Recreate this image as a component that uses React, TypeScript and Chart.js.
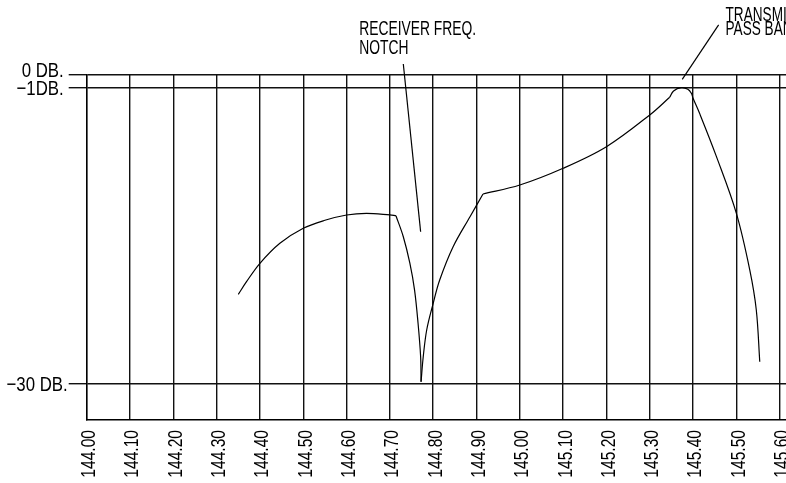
import React, { useEffect, useRef } from "react";
import { Chart, registerables } from "chart.js";

Chart.register(...registerables);

const FONT = '"Liberation Sans", Arial, sans-serif';

// Frequency axis (MHz)
const xTickValues = [144.0, 144.1, 144.2, 144.3, 144.4, 144.5, 144.6, 144.7, 144.8, 144.9, 145.0, 145.1, 145.2, 145.3, 145.4, 145.5, 145.6];
const xTickLabels = ["144.00", "144.10", "144.20", "144.30", "144.40", "144.50", "144.60", "144.70", "144.80", "144.90", "145.00", "145.10", "145.20", "145.30", "145.40", "145.50", "145.60"];

// Attenuation axis: the drawing puts its "0 DB." line just above -1 dB
const yTickValues = [0.27, -1, -30];
const yTickLabels = ["0 DB.", "\u22121DB.", "\u221230 DB."];

// Response curve, split at its corners
const lowArcFreq = [144.35, 144.369, 144.4, 144.446, 144.5, 144.55, 144.6, 144.646, 144.7, 144.714];
const lowArcDb = [-21.27, -20.03, -18.23, -16.27, -14.8, -14.02, -13.5, -13.34, -13.5, -13.57];

const notchFallFreq = [144.714, 144.731, 144.746, 144.757, 144.765, 144.771, 144.772];
const notchFallDb = [-13.57, -15.63, -18.2, -20.85, -24.08, -27.38, -29.82];

const notchRiseFreq = [144.772, 144.777, 144.785, 144.8, 144.815, 144.846, 144.885, 144.915];
const notchRiseDb = [-29.82, -27.38, -24.76, -22.15, -19.87, -16.61, -13.67, -11.45];

const passRiseFreq = [144.915, 145.0, 145.1, 145.2, 145.3, 145.346];
const passRiseDb = [-11.45, -10.57, -8.93, -6.82, -3.71, -1.98];

const passTopFreq = [145.346, 145.355, 145.373, 145.388, 145.396, 145.4, 145.415, 145.454, 145.5, 145.531, 145.546, 145.554];
const passTopDb = [-1.98, -1.36, -1.04, -1.2, -1.59, -2.08, -3.55, -7.79, -13.34, -18.89, -22.8, -27.87];

// Callouts (text anchored in chart units)
const notchText = ["RECEIVER FREQ.", "NOTCH"];
const notchTextAt = { f: 144.629, db: 4.12 };
const notchLeader = [{ f: 144.731, db: 1.28 }, { f: 144.771, db: -15.14 }];

const passText = ["TRANSMITTER", "PASS BAND"];
const passTextAt = { f: 145.475, db: 5.45 };
const passLeader = [{ f: 145.459, db: 5.1 }, { f: 145.375, db: -0.22 }];

const toPoints = (fs: number[], ds: number[]) => fs.map((f, i) => ({ x: f, y: ds[i] }));

export default function App() {
  const ref = useRef<HTMLCanvasElement | null>(null);

  useEffect(() => {
    if (!ref.current) return;
    const seg = (fs: number[], ds: number[]) => ({
      data: toPoints(fs, ds),
      showLine: true,
      borderColor: "#000",
      borderWidth: 1.2,
      pointRadius: 0,
      tension: 0.35,
      fill: false,
    });

    const overlay = {
      id: "overlay",
      afterDraw(chart: any) {
        const { ctx, scales } = chart;
        const xs = scales.x;
        const ys = scales.y;
        ctx.save();
        ctx.fillStyle = "#000";
        ctx.strokeStyle = "#000";
        // y labels (narrow drafting lettering)
        ctx.font = `21px ${FONT}`;
        ctx.textAlign = "right";
        ctx.textBaseline = "alphabetic";
        yTickValues.forEach((v, i) => {
          const py = ys.getPixelForValue(v);
          const base = i === 0 ? py + 2.5 : py + 7.5;
          const rx = i === 2 ? ys.right - 19 : ys.right - 23;
          ctx.save();
          ctx.translate(rx, base);
          ctx.scale(0.8, 1);
          ctx.fillText(yTickLabels[i], 0, 0);
          ctx.restore();
        });
        // x labels, rotated to read upward
        ctx.font = `19.5px ${FONT}`;
        xTickValues.forEach((v, i) => {
          const px = xs.getPixelForValue(v);
          ctx.save();
          ctx.translate(px + 3, xs.top + 10);
          ctx.rotate(-Math.PI / 2);
          ctx.scale(0.8, 1);
          ctx.textAlign = "right";
          ctx.textBaseline = "middle";
          ctx.fillText(xTickLabels[i], 0, 0);
          ctx.restore();
        });
        // callouts
        const drawLines = (lines: string[], at: { f: number; db: number }, size: number, gap: number, sx: number) => {
          const px = xs.getPixelForValue(at.f);
          const py = ys.getPixelForValue(at.db);
          ctx.font = `${size}px ${FONT}`;
          ctx.textAlign = "left";
          ctx.textBaseline = "alphabetic";
          lines.forEach((t, i) => {
            ctx.save();
            ctx.translate(px, py + i * gap);
            ctx.scale(sx, 1);
            ctx.fillText(t, 0, 0);
            ctx.restore();
          });
        };
        drawLines(notchText, notchTextAt, 21, 19, 0.66);
        drawLines(passText, passTextAt, 20, 13.5, 0.68);
        ctx.lineWidth = 1.2;
        [notchLeader, passLeader].forEach((ld) => {
          ctx.beginPath();
          ctx.moveTo(xs.getPixelForValue(ld[0].f), ys.getPixelForValue(ld[0].db));
          ctx.lineTo(xs.getPixelForValue(ld[1].f), ys.getPixelForValue(ld[1].db));
          ctx.stroke();
        });
        ctx.restore();
      },
    };

    const chart = new Chart(ref.current, {
      type: "scatter",
      data: {
        datasets: [
          seg(lowArcFreq, lowArcDb),
          seg(notchFallFreq, notchFallDb),
          seg(notchRiseFreq, notchRiseDb),
          seg(passRiseFreq, passRiseDb),
          seg(passTopFreq, passTopDb),
        ],
      },
      options: {
        animation: false,
        responsive: false,
        devicePixelRatio: 1,
        layout: { padding: { left: 0, right: 0, top: 74.3, bottom: 0 } },
        plugins: { legend: { display: false }, tooltip: { enabled: false } },
        scales: {
          x: {
            type: "linear",
            min: 144.0,
            max: 145.7,
            afterBuildTicks: (s: any) => {
              s.ticks = xTickValues.map((v) => ({ value: v }));
            },
            afterFit: (s: any) => {
              s.height = 63;
            },
            ticks: { display: false },
            grid: { color: "#111", lineWidth: 1.4, drawTicks: false },
            border: { color: "#000", width: 1.4 },
          },
          y: {
            type: "linear",
            min: -33.57,
            max: 0.27,
            afterBuildTicks: (s: any) => {
              s.ticks = yTickValues.map((v) => ({ value: v }));
            },
            afterFit: (s: any) => {
              s.width = 86.7;
            },
            ticks: { display: false },
            grid: { color: "#111", lineWidth: 1.4, drawTicks: true, tickLength: 18 },
            border: { color: "#000", width: 1.4 },
          },
        },
      },
      plugins: [overlay],
    });
    return () => chart.destroy();
  }, []);

  return (
    <div style={{ position: "fixed", left: 0, top: 0, width: 786, height: 483, overflow: "hidden", background: "#fff" }}>
      <canvas ref={ref} width={823} height={483} style={{ display: "block", width: 823, height: 483 }} />
    </div>
  );
}
